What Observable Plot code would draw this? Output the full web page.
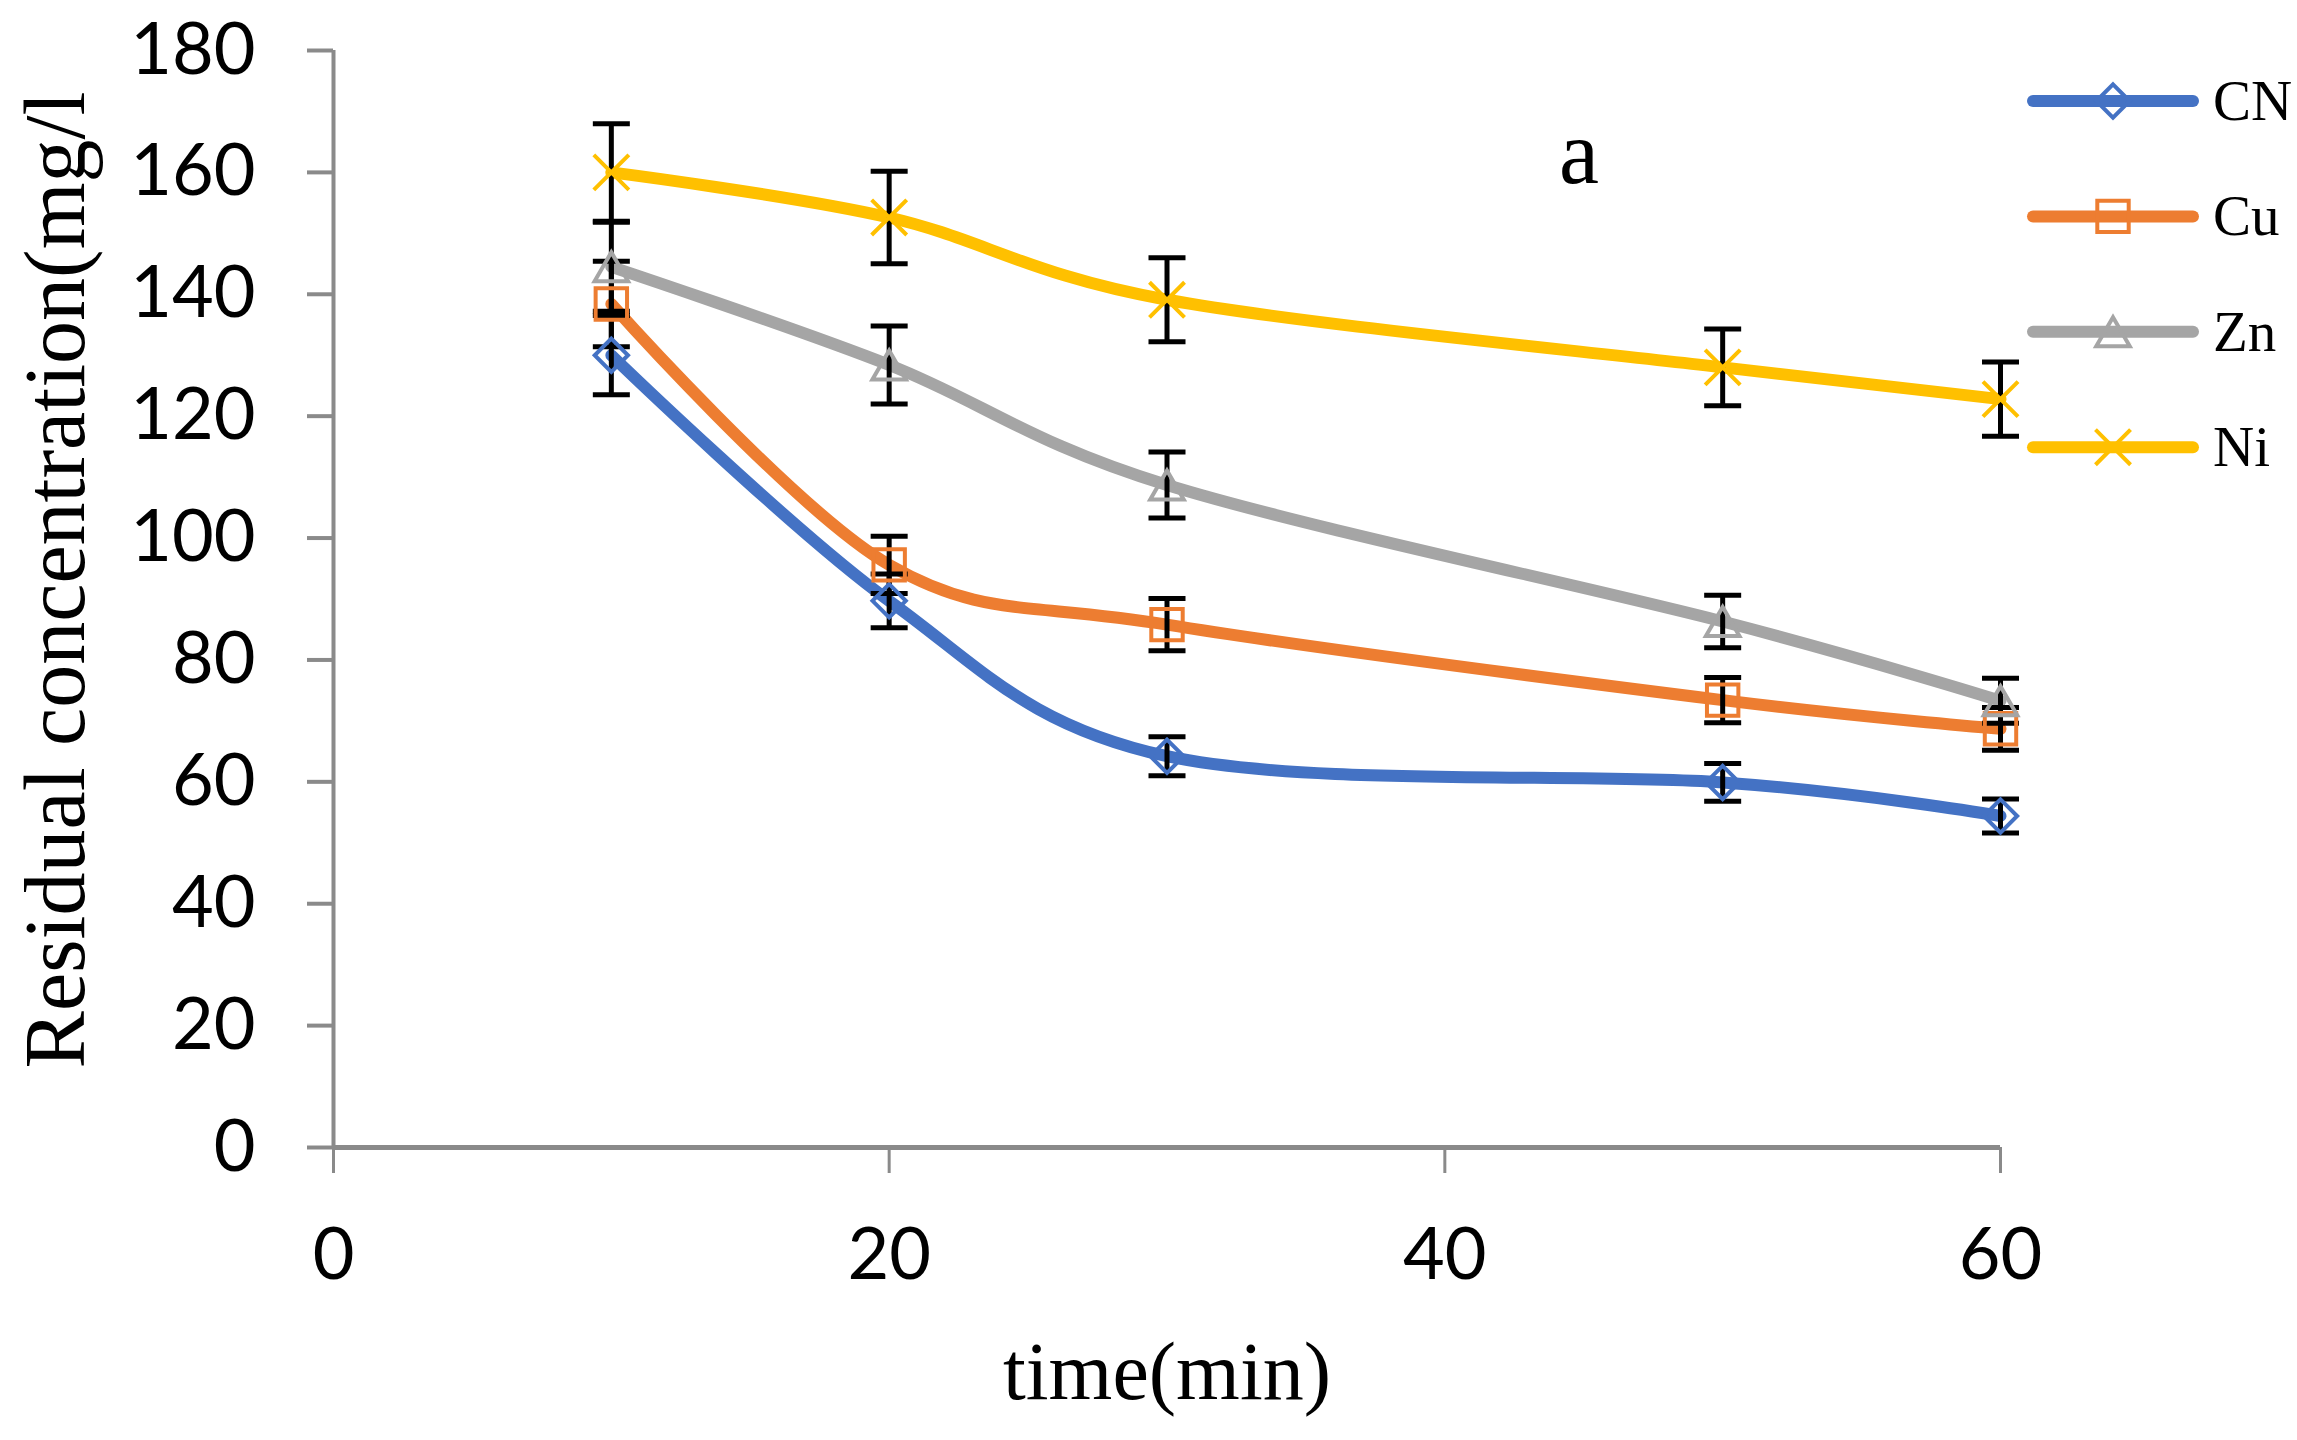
<!DOCTYPE html>
<html>
<head>
<meta charset="utf-8">
<script src="https://cdn.jsdelivr.net/npm/d3@7"></script>
<script src="https://cdn.jsdelivr.net/npm/@observablehq/plot@0.6"></script>
<style>
  body { margin: 0; background: #fff; }
  #wrap { position: relative; width: 2297px; height: 1440px; }
  #legend { position: absolute; left: 0; top: 0; pointer-events: none; }
</style>
</head>
<body>
<div id="wrap">
  <div id="chart"></div>
  <svg id="legend" width="2297" height="1440"></svg>
</div>
<script>
// valores
const time = [10, 20, 30, 50, 60];
const seriesNames = ["CN", "Cu", "Zn", "Ni"];
const cnValues = [130.0, 89.7, 64.2, 59.9, 54.4];
const cuValues = [138.4, 95.6, 85.8, 73.4, 68.7];
const znValues = [144.5, 128.4, 108.7, 86.3, 73.3];
const niValues = [160.0, 152.6, 139.1, 128.0, 122.8];
const cnErrors = [6.5, 4.4, 3.2, 3.1, 2.8];
const cuErrors = [7.0, 4.7, 4.3, 3.7, 3.5];
const znErrors = [7.3, 6.4, 5.4, 4.3, 3.7];
const niErrors = [8.0, 7.6, 6.9, 6.3, 6.1];
const xTicks = [0, 20, 40, 60];
const yTicks = [0, 20, 40, 60, 80, 100, 120, 140, 160, 180];

// estilos
const colors = ["#4472C4", "#ED7D31", "#A5A5A5", "#FFC000"];
const symbols = ["diamond2", "square2", "triangle2", "times"];
const d3Symbols = [d3.symbolDiamond2, d3.symbolSquare2, d3.symbolTriangle2, d3.symbolTimes];
const markerR = [15, 20, 16, 16];
const markerDy = [0, 0, 4.8, 0];
const axisColor = "#8a8a8a";
const serif = "'Liberation Serif', 'Times New Roman', serif";

const allValues = [cnValues, cuValues, znValues, niValues];
const allErrors = [cnErrors, cuErrors, znErrors, niErrors];

const rows = seriesNames.flatMap((s, i) =>
  time.map((t, j) => ({
    series: s,
    time: t,
    value: allValues[i][j],
    lo: allValues[i][j] - allErrors[i][j],
    hi: allValues[i][j] + allErrors[i][j]
  }))
);

// tapa horizontal de la barra de error
const capSymbol = {
  draw(context, size) {
    const w = Math.sqrt(size / Math.PI);
    context.moveTo(-w, 0);
    context.lineTo(w, 0);
  }
};

const chart = Plot.plot({
  width: 2297,
  height: 1440,
  marginLeft: 333,
  marginRight: 297,
  marginTop: 50,
  marginBottom: 293,
  x: { domain: [0, 60] },
  y: { domain: [0, 180] },
  style: { background: "white", overflow: "visible" },
  marks: [
    Plot.axisY({
      ticks: yTicks, tickSize: 26, tickPadding: 52, label: null,
      fontSize: 72, fontFamily: "Lato", fill: "black",
      stroke: axisColor, strokeWidth: 4
    }),
    Plot.axisX({
      ticks: xTicks, tickSize: 26, tickPadding: 54, label: null,
      fontSize: 72, fontFamily: "Lato", fill: "black",
      stroke: axisColor, strokeWidth: 3
    }),
    Plot.ruleX([0], { stroke: axisColor, strokeWidth: 4 }),
    Plot.ruleY([0], { stroke: axisColor, strokeWidth: 5 }),

    // lineas suavizadas como en Excel
    ...seriesNames.map((s, i) =>
      Plot.line(rows.filter(d => d.series === s), {
        x: "time", y: "value",
        stroke: colors[i], strokeWidth: 12,
        curve: "cardinal", tension: 0,
        strokeLinecap: "round", strokeLinejoin: "round"
      })
    ),

    Plot.ruleX(rows, { x: "time", y1: "lo", y2: "hi", stroke: "black", strokeWidth: 5 }),
    Plot.dot(rows, { x: "time", y: "lo", symbol: capSymbol, r: 18.5, stroke: "black", strokeWidth: 5, fill: "none" }),
    Plot.dot(rows, { x: "time", y: "hi", symbol: capSymbol, r: 18.5, stroke: "black", strokeWidth: 5, fill: "none" }),

    ...seriesNames.map((s, i) =>
      Plot.dot(rows.filter(d => d.series === s), {
        x: "time", y: "value",
        symbol: symbols[i], r: markerR[i], dy: markerDy[i],
        stroke: colors[i], strokeWidth: 4, fill: "none"
      })
    ),

    Plot.text(["Residual concentration(mg/l"], {
      text: d => d, frameAnchor: "left", textAnchor: "middle", lineAnchor: "middle",
      rotate: -90, dx: -277, dy: -19,
      fontSize: 86, fontFamily: serif, fill: "black"
    }),
    Plot.text(["time(min)"], {
      text: d => d, frameAnchor: "bottom", lineAnchor: "middle", dy: 225,
      fontSize: 82, fontFamily: serif, fill: "black"
    }),
    Plot.text(["a"], {
      text: d => d, frameAnchor: "top", lineAnchor: "middle", dx: 412, dy: 104,
      fontSize: 90, fontFamily: serif, fill: "black"
    })
  ]
});

d3.select("#chart").append(() => chart);

// leyenda a la derecha
const legend = d3.select("#legend");
seriesNames.forEach((s, i) => {
  const cy = 101 + i * 115.4;
  legend.append("line")
    .attr("x1", 2033).attr("x2", 2193).attr("y1", cy).attr("y2", cy)
    .attr("stroke", colors[i]).attr("stroke-width", 12).attr("stroke-linecap", "round");
  legend.append("path")
    .attr("d", d3.symbol(d3Symbols[i], markerR[i] * markerR[i] * Math.PI)())
    .attr("transform", `translate(2113,${cy + markerDy[i]})`)
    .attr("fill", "none").attr("stroke", colors[i]).attr("stroke-width", 4);
  legend.append("text")
    .attr("x", 2213).attr("y", cy + 19)
    .attr("font-family", serif).attr("font-size", 57)
    .text(s);
});
</script>
</body>
</html>
